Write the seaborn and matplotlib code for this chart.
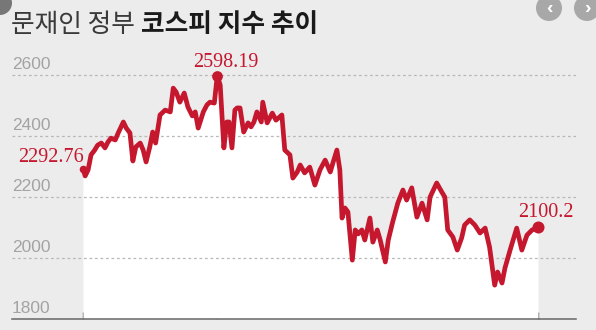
import matplotlib
matplotlib.use("Agg")
import matplotlib.pyplot as plt
import seaborn as sns
import pandas as pd
from matplotlib.patches import Ellipse
from matplotlib.transforms import blended_transform_factory

# ---- data (trading-day index, KOSPI close) ----
days = [0, 3, 7, 11, 16, 20, 25, 30, 34, 38, 44, 48, 55, 59, 64, 68, 72, 78, 82, 86,
        91, 95, 99, 105, 112, 119, 123, 127, 132, 138, 143, 149, 153, 157, 164, 169, 173, 179, 183, 187,
        192, 196, 199, 203, 207, 210, 214, 219, 225, 229, 233, 237, 243, 245, 251, 258, 263, 271, 275, 282,
        286, 292, 296, 302, 309, 316, 323, 330, 337, 341, 346, 350, 353, 357, 361, 367, 371, 375, 380, 384,
        391, 395, 401, 405, 412, 416, 422, 429, 436, 441, 448, 455, 462, 469, 473, 482, 489, 493, 497, 504,
        510, 516, 520, 527, 534, 541, 548, 554, 561, 565, 571, 575, 582, 591, 598, 605, 612, 620]
kospi = [2292.76, 2269, 2289, 2338, 2354, 2370, 2377, 2361, 2380, 2393, 2387, 2410, 2446, 2426, 2410, 2318, 2364, 2377, 2354, 2315,
         2364, 2413, 2377, 2469, 2485, 2479, 2557, 2544, 2511, 2541, 2495, 2466, 2479, 2426, 2479, 2502, 2511, 2508, 2598.19, 2567,
         2361, 2446, 2446, 2361, 2485, 2492, 2492, 2413, 2443, 2430, 2446, 2479, 2446, 2511, 2443, 2475, 2452, 2469, 2354, 2338,
         2262, 2282, 2305, 2279, 2298, 2239, 2289, 2321, 2282, 2315, 2354, 2289, 2131, 2164, 2151, 1993, 2092, 2079, 2092, 2059,
         2131, 2052, 2092, 2059, 1987, 2059, 2118, 2180, 2223, 2190, 2230, 2134, 2180, 2125, 2200, 2246, 2216, 2200, 2092, 2069,
         2026, 2066, 2108, 2125, 2108, 2082, 2098, 2036, 1911, 1954, 1918, 1967, 2026, 2098, 2026, 2075, 2092, 2100.2]
y_ticks = [1800, 2000, 2200, 2400, 2600]
x_ticks = [0, 181, 620]
labels = {"start": "2292.76", "peak": "2598.19", "end": "2100.2"}
title_regular = "문재인 정부 "
title_bold = "코스피 지수 추이"

df = pd.DataFrame({"day": days, "kospi": kospi})

sns.set_theme(style="white")
plt.rcParams["font.family"] = ["Liberation Sans", "DejaVu Sans"]

BG = "#ececec"
RED = "#c5172e"
GREY = "#a3a3a3"

fig = plt.figure(figsize=(5.96, 3.30), dpi=100, facecolor=BG)
ax = fig.add_axes([12 / 596, 11 / 330, 564 / 596, 0.8133])
ax.set_facecolor(BG)

ax.set_xlim(-96.7, 671.8)
ax.set_ylim(1800, 2680)

ax.fill_between(df["day"], df["kospi"], 1800, color="white", lw=0, zorder=1)
for v in y_ticks[1:]:
    ax.axhline(v, color="#b8b8b8", lw=0.9, ls=(0, (2.2, 2.2)), zorder=2)

sns.lineplot(data=df, x="day", y="kospi", ax=ax, color=RED, lw=3.4, zorder=4,
             solid_joinstyle="round", solid_capstyle="round")

i_peak = kospi.index(max(kospi))
ax.scatter([days[0]], [kospi[0]], s=30, color=RED, zorder=5, lw=0)
ax.scatter([days[i_peak]], [kospi[i_peak]], s=60, color=RED, zorder=5, lw=0)
ax.scatter([days[-1]], [kospi[-1]], s=75, color=RED, zorder=5, lw=0)

serif = ["Liberation Serif", "DejaVu Serif"]
ax.annotate(labels["start"], (days[0], kospi[0]), xytext=(-23, 8), textcoords="offset points",
            ha="center", va="center", color=RED, fontsize=14.5, family=serif, zorder=6)
ax.annotate(labels["peak"], (days[i_peak], kospi[i_peak]), xytext=(6, 9.5), textcoords="offset points",
            ha="center", va="center", color=RED, fontsize=14.5, family=serif, zorder=6)
ax.annotate(labels["end"], (days[-1], kospi[-1]), xytext=(5.5, 10.5), textcoords="offset points",
            ha="center", va="center", color=RED, fontsize=14.5, family=serif, zorder=6)

# y labels above grid lines, at left
trans = blended_transform_factory(ax.transAxes, ax.transData)
for v in y_ticks:
    ax.annotate(str(v), (0.0, v), xycoords=trans, xytext=(0, 2.5), textcoords="offset points",
                ha="left", va="bottom", color=GREY, fontsize=12.5)

ax.set_yticks([])
ax.set_xticks(x_ticks)
ax.set_xticklabels([])
ax.tick_params(axis="x", direction="in", length=5, width=1, color="#666666", bottom=True)
for s in ["top", "left", "right"]:
    ax.spines[s].set_visible(False)
ax.spines["bottom"].set_color("#666666")
ax.spines["bottom"].set_linewidth(1.1)
ax.set_xlabel("")
ax.set_ylabel("")

# title
cjk = ["Noto Sans CJK KR", "DejaVu Sans"]
TY = 1 - 25 / 330
t1 = fig.text(11 / 596, TY, title_regular, ha="left", va="center",
              fontsize=18.5, color="#3a3a3a", family=cjk)
fig.canvas.draw()
bb = t1.get_window_extent()
fig.text(bb.x1 / fig.bbox.width, TY, title_bold, ha="left", va="center",
         fontsize=18.5, color="#1a1a1a", family=cjk, fontweight="bold")

# carousel buttons (as in the screenshot)
for cx, ch in [(549, "‹"), (587, "›")]:
    fig.patches.append(Ellipse((cx / 596, 1 - 8 / 330), 26 / 596, 26 / 330, transform=fig.transFigure,
                               facecolor="#a8a8a8", edgecolor="none"))
    fig.text(cx / 596, 1 - 9 / 330, ch, ha="center", va="center", color="white",
             fontsize=14, fontweight="bold")
fig.patches.append(Ellipse((0, 1 - 3 / 330), 24 / 596, 24 / 330, transform=fig.transFigure,
                           facecolor="#777777", edgecolor="none"))

fig.savefig("out.png", dpi=100, facecolor=BG)
